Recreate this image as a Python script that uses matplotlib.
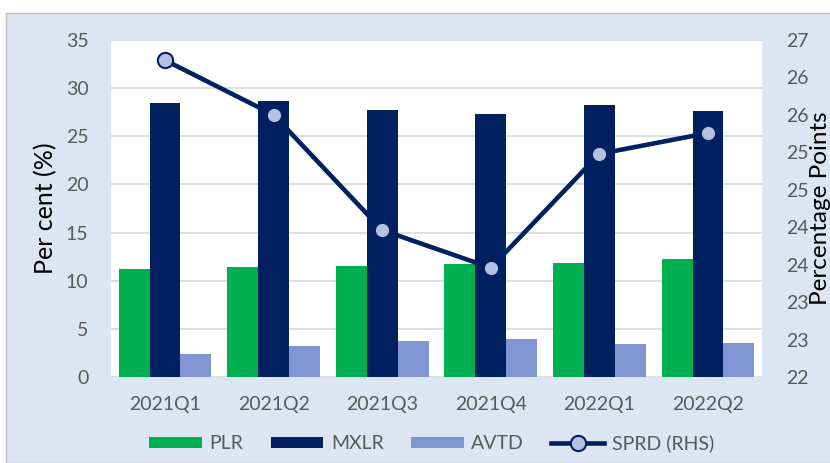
import numpy as np
import matplotlib.pyplot as plt
from matplotlib.patches import Rectangle
from matplotlib.ticker import FormatStrFormatter

quarters = ['2021Q1', '2021Q2', '2021Q3', '2021Q4', '2022Q1', '2022Q2']
plr = [11.2, 11.4, 11.5, 11.7, 11.8, 12.3]
mxlr = [28.5, 28.7, 27.7, 27.3, 28.3, 27.6]
avtd = [2.4, 3.2, 3.7, 3.9, 3.4, 3.5]
sprd = [26.70, 25.89, 24.18, 23.62, 25.31, 25.62]

plt.rcParams['font.family'] = ['Lato', 'DejaVu Sans']
grey = '#595959'
navy = '#002060'

fig = plt.figure(figsize=(8.3, 4.63), dpi=100)
fig.patch.set_facecolor('white')
# chart area box
fig.patches.append(Rectangle((6 / 830, 0), 1, 1 - 13 / 463, transform=fig.transFigure,
                             facecolor='#dce6f2', edgecolor='#bfbfbf', lw=1, zorder=-10))

ax = fig.add_axes([110.7 / 830, 1 - 377 / 463, 651.6 / 830, 337 / 463])
ax.set_facecolor('white')
x = np.arange(len(quarters))
w = 0.285
ax.bar(x - w, plr, w, color='#00b050', label='PLR', zorder=3)
ax.bar(x, mxlr, w, color=navy, label='MXLR', zorder=3)
ax.bar(x + w, avtd, w, color='#7f96d2', label='AVTD', zorder=3)
ax.set_xlim(-0.5, 5.5)
ax.set_ylim(0, 35)
ax.set_yticks(np.arange(0, 36, 5))
ax.set_xticks(x)
ax.set_xticklabels(quarters)
ax.grid(axis='y', color='#d9d9d9', lw=1.2, zorder=0)
for s in ax.spines.values():
    s.set_visible(False)
ax.tick_params(length=0, labelsize=14, colors=grey, pad=16)
ax.tick_params(axis='x', pad=14)
ax.set_ylabel('Per cent (%)', fontsize=18, color='black', labelpad=6)

ax2 = ax.twinx()
ax2.plot(x, sprd, color=navy, lw=3.3, marker='o', markersize=11,
         markerfacecolor='#b4c0e0', markeredgecolor=navy, markeredgewidth=1.5,
         label='SPRD (RHS)', zorder=5)
ax2.set_ylim(22, 27)
ax2.set_yticks(np.linspace(22, 27, 10))
ax2.yaxis.set_major_formatter(FormatStrFormatter('%.0f'))
for s in ax2.spines.values():
    s.set_visible(False)
ax2.tick_params(length=0, labelsize=14, colors=grey, pad=17)
ax2.set_ylabel('Percentage Points', fontsize=17.5, color='black', labelpad=1)

h1, l1 = ax.get_legend_handles_labels()
h2, l2 = ax2.get_legend_handles_labels()
fig.legend(h1 + h2, l1 + l2, loc='center', bbox_to_anchor=(0.52, 1 - 443 / 463),
           ncol=4, frameon=False, fontsize=14, labelcolor=grey,
           handlelength=2.7, handleheight=0.5, columnspacing=1.4, handletextpad=0.4)

fig.savefig('out.png', dpi=100)
